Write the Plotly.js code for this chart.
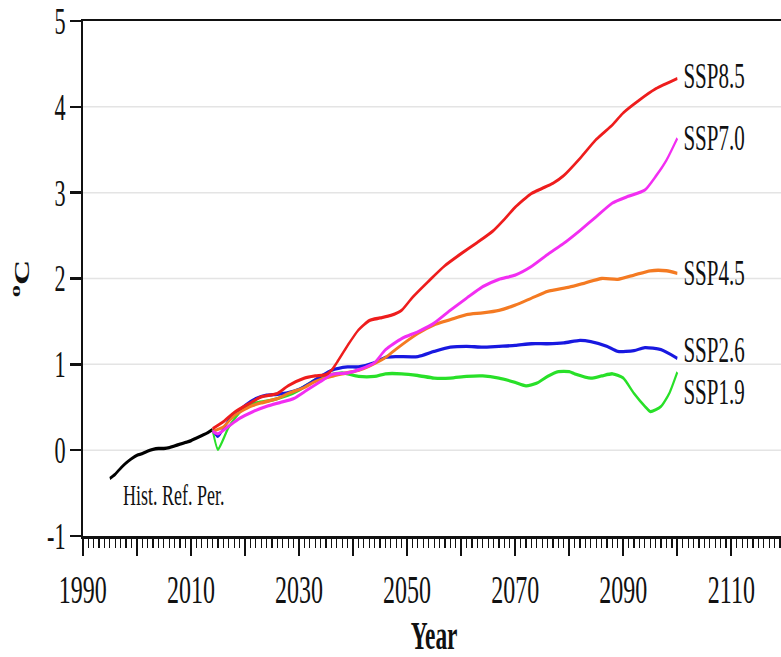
<!DOCTYPE html>
<html>
<head>
<meta charset="utf-8">
<script src="https://cdn.plot.ly/plotly-3.0.1.min.js"></script>
<style>
  html, body { margin: 0; padding: 0; overflow: hidden; background: #fff; }
  #wrap { width: 781px; height: 657px; overflow: hidden; position: relative; }
  #chart { width: 1320px; height: 657px; transform: scaleX(0.6); transform-origin: 0 0; }
</style>
</head>
<body>
<div id="wrap"><div id="chart"></div></div>
<script>
// ---- Data ----
const histYears = [1995,1996,1997,1998,1999,2000,2001,2002,2003,2004,2005,2006,2007,2008,2009,2010,2011,2012,2013,2014];
const histTemp  = [-0.33,-0.28,-0.21,-0.15,-0.10,-0.06,-0.04,-0.01,0.01,0.02,0.02,0.03,0.05,0.07,0.09,0.11,0.14,0.17,0.20,0.24];

const ssp85Years = [2014,2016,2018,2021,2023,2026,2028,2031,2033,2035,2036,2037,2039,2041,2043,2045,2047,2049,2051,2054,2057,2060,2063,2066,2068,2070,2073,2075,2077,2079,2082,2085,2088,2090,2093,2096,2100];
const ssp85Temp  = [0.25,0.33,0.44,0.55,0.62,0.66,0.75,0.84,0.865,0.88,0.93,1.02,1.22,1.40,1.51,1.54,1.57,1.63,1.78,1.97,2.15,2.29,2.42,2.56,2.69,2.83,2.99,3.05,3.11,3.20,3.40,3.62,3.79,3.93,4.08,4.21,4.33];

const ssp70Years = [2014,2015,2017,2019,2021.5,2024,2026.5,2029,2031.5,2034,2036,2039,2041,2044,2046,2049,2052,2055,2058,2061,2064,2067,2070,2073,2076,2079,2082,2085,2088,2091,2094,2096,2098,2100];
const ssp70Temp  = [0.22,0.19,0.28,0.37,0.45,0.51,0.555,0.60,0.70,0.80,0.88,0.90,0.935,1.02,1.17,1.30,1.38,1.48,1.63,1.77,1.905,1.99,2.04,2.14,2.28,2.41,2.56,2.72,2.88,2.96,3.03,3.19,3.38,3.635];

const ssp45Years = [2014,2016,2018,2021,2023,2026,2028,2031,2033,2036,2038,2041,2043,2046,2048,2052,2055,2058,2061,2064,2067,2070,2073,2076,2080,2083,2086,2089,2092,2095,2098,2100];
const ssp45Temp  = [0.22,0.27,0.40,0.51,0.55,0.60,0.66,0.73,0.80,0.86,0.89,0.93,0.98,1.08,1.18,1.36,1.46,1.52,1.58,1.60,1.63,1.69,1.77,1.85,1.90,1.95,2.00,1.99,2.04,2.09,2.09,2.06];

const ssp26Years = [2014,2015,2017,2020,2022,2024,2026,2028,2030,2032,2034,2036,2039,2041,2044,2046,2048,2052,2055,2058,2061,2064,2067,2070,2073,2076,2079,2082,2084,2087,2089,2092,2094,2097,2100];
const ssp26Temp  = [0.24,0.16,0.35,0.52,0.60,0.64,0.65,0.67,0.71,0.78,0.86,0.93,0.97,0.97,1.02,1.08,1.09,1.09,1.15,1.20,1.21,1.20,1.21,1.22,1.24,1.24,1.25,1.28,1.265,1.21,1.15,1.16,1.195,1.17,1.07];

const ssp19Years = [2014,2015,2017,2019,2020,2022,2024,2026,2028,2030,2032,2034,2036,2038,2041,2044,2046,2049,2052,2055,2058,2061,2064,2067,2070,2072,2074,2076,2078,2080,2081,2084,2086,2088,2090,2092,2094,2095,2097,2098.5,2100];
const ssp19Temp  = [0.24,0.01,0.27,0.44,0.50,0.55,0.57,0.60,0.64,0.70,0.78,0.85,0.88,0.90,0.86,0.86,0.89,0.89,0.87,0.84,0.84,0.86,0.865,0.84,0.79,0.75,0.78,0.86,0.915,0.915,0.89,0.84,0.865,0.89,0.84,0.66,0.51,0.45,0.51,0.66,0.91];

const seriesNames  = ['SSP8.5','SSP7.0','SSP4.5','SSP2.6','SSP1.9'];
const seriesColors = ['#ee1d1d','#f22ef2','#f47a22','#1818e0','#28e028'];
const histLabel = 'Hist. Ref. Per.';

const xRange = [1990, 2120];
const xMajorStep = 10;     // major ticks every 10 years, labelled every 2nd (20 years)
const yTickVals = [-1,0,1,2,3,4,5];
const yTickText = ['-1','0','1','2','3','4','5'];

// ---- Build traces ----
const serif = 'Liberation Serif, Times New Roman, serif';
const sspYears = [ssp85Years, ssp70Years, ssp45Years, ssp26Years, ssp19Years];
const sspTemps = [ssp85Temp, ssp70Temp, ssp45Temp, ssp26Temp, ssp19Temp];
const labelShift = [2, 0, 0, 8, -20];

const traces = [{
  x: histYears, y: histTemp, mode: 'lines', name: 'Hist',
  line: {color: '#000', width: 3.4, shape: 'spline', smoothing: 0.6}
}];
for (let i = sspYears.length - 1; i >= 0; i--) {
  traces.push({
    x: sspYears[i], y: sspTemps[i], mode: 'lines', name: seriesNames[i],
    line: {color: seriesColors[i], width: 3.3, shape: 'spline', smoothing: 0.6}
  });
}

const annotations = seriesNames.map((n, i) => ({
  x: sspYears[i][sspYears[i].length - 1],
  y: sspTemps[i][sspTemps[i].length - 1],
  xref: 'x', yref: 'y', text: n, showarrow: false,
  xanchor: 'left', yanchor: 'middle', xshift: 8, yshift: labelShift[i],
  font: {family: serif, size: 35, color: '#111'}
}));
annotations.push({
  x: 1997.2, y: -0.52, xref: 'x', yref: 'y', text: histLabel, showarrow: false,
  xanchor: 'left', yanchor: 'middle',
  font: {family: serif, size: 30, color: '#111'}
});

const layout = {
  width: 1320, height: 657,
  margin: {l: 138, r: 11, t: 21, b: 121, pad: 0},
  paper_bgcolor: '#fff', plot_bgcolor: '#fff',
  showlegend: false,
  font: {family: serif, color: '#111'},
  xaxis: {
    range: xRange, tickmode: 'linear', tick0: xRange[0], dtick: xMajorStep, ticklabelstep: 2,
    ticks: 'outside', ticklen: 17, tickwidth: 3, tickcolor: '#111',
    showline: true, linecolor: '#111', linewidth: 2.5, mirror: true,
    showgrid: false, zeroline: false,
    tickfont: {family: serif, size: 40, color: '#111'},
    minor: {tickmode: 'linear', tick0: xRange[0], dtick: 1, ticks: 'outside', ticklen: 9, tickwidth: 2, tickcolor: '#111', showgrid: false},
    title: {text: '<b>Year</b>', font: {family: serif, size: 39, color: '#111'}, standoff: 12}
  },
  yaxis: {
    range: [-1, 5], tickmode: 'array', tickvals: yTickVals, ticktext: yTickText,
    ticks: 'outside', ticklen: 18, tickwidth: 2.5, tickcolor: '#111',
    showline: true, linecolor: '#111', linewidth: 3.3, mirror: false,
    showgrid: true, gridcolor: '#e4e4e4', gridwidth: 1.5, zeroline: false,
    tickfont: {family: serif, size: 37, color: '#111'},
    title: {text: '<b><sup>o</sup>C</b>', font: {family: serif, size: 35, color: '#111'}, standoff: 20}
  },
  annotations: annotations
};

Plotly.newPlot('chart', traces, layout, {staticPlot: true, displayModeBar: false});
</script>
</body>
</html>
